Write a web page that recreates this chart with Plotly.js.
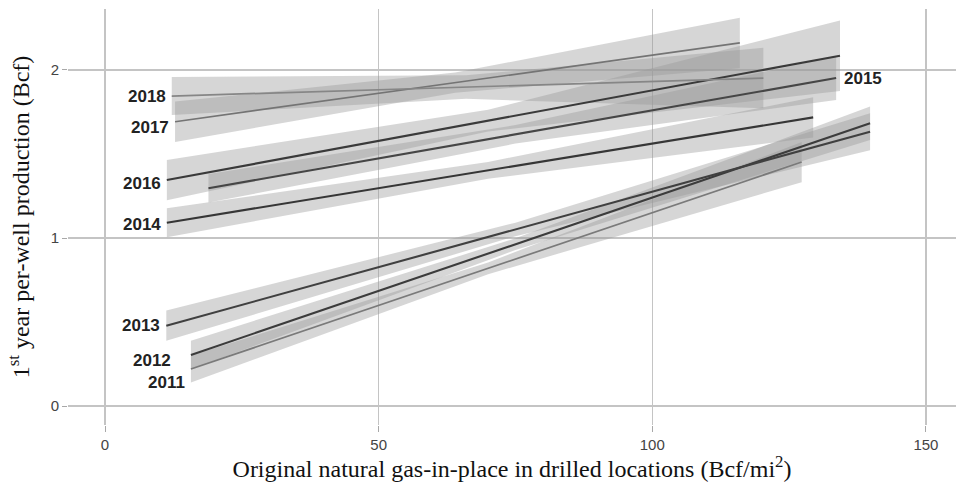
<!DOCTYPE html>
<html>
<head>
<meta charset="utf-8">
<script src="https://cdn.plot.ly/plotly-3.0.1.min.js"></script>
<style>
  html, body { margin: 0; padding: 0; background: #ffffff; }
  #chart { width: 956px; height: 482px; }
</style>
</head>
<body>
<div id="chart"></div>
<script>
// Fitted lines (geom_smooth lm) per year
const years     = ['2011', '2012', '2013', '2014', '2015', '2016', '2017', '2018'];
const xStart    = [15.7, 15.7, 11.2, 11.3, 18.9, 11.3, 12.8, 12.2];
const xMid      = [70, 75, 75, 70, 75, 70, 64, 66];
const xEnd      = [127.3, 139.8, 139.8, 129.4, 133.6, 134.3, 116.0, 120.3];
const yStart    = [0.220, 0.304, 0.478, 1.091, 1.296, 1.345, 1.692, 1.845];
const yEnd      = [1.452, 1.683, 1.633, 1.718, 1.952, 2.085, 2.161, 1.952];
// confidence band half-widths at start, middle and end of each fit
const bandStart = [0.080, 0.085, 0.090, 0.086, 0.085, 0.120, 0.120, 0.113];
const bandMid   = [0.035, 0.035, 0.040, 0.050, 0.055, 0.065, 0.060, 0.070];
const bandEnd   = [0.120, 0.100, 0.110, 0.120, 0.130, 0.210, 0.150, 0.180];
// line shades
const lineColors = ['#7a7a7a', '#3c3c3c', '#404040', '#363636', '#464646', '#3a3a3a', '#747474', '#868686'];
const lineWidths = [1.7, 2.1, 2.1, 2.1, 2.1, 2.1, 1.7, 1.7];
// label offsets (pixels) for direct labels
const labelYShift = [-13, -6, 0, -2, 0, -3, -6, 0];
const labelXShift = [-4, -18, -4, -4, 6, -4, -4, -4];

const yAt = (i, x) => yStart[i] + (yEnd[i] - yStart[i]) * (x - xStart[i]) / (xEnd[i] - xStart[i]);

const traces = [];
years.forEach((yr, i) => {
  const ym = yAt(i, xMid[i]);
  const xs = [xStart[i], xMid[i], xEnd[i]];
  const hi = [yStart[i] + bandStart[i], ym + bandMid[i], yEnd[i] + bandEnd[i]];
  const lo = [yStart[i] - bandStart[i], ym - bandMid[i], yEnd[i] - bandEnd[i]];
  traces.push({
    type: 'scatter', mode: 'lines',
    x: xs.concat(xs.slice().reverse()),
    y: hi.concat(lo.slice().reverse()),
    fill: 'toself', fillcolor: 'rgba(153,153,153,0.4)',
    line: { width: 0 }, hoverinfo: 'skip', showlegend: false
  });
});
years.forEach((yr, i) => {
  traces.push({
    type: 'scatter', mode: 'lines', name: yr,
    x: [xStart[i], xEnd[i]], y: [yStart[i], yEnd[i]],
    line: { color: lineColors[i], width: lineWidths[i] },
    showlegend: false
  });
});

const annotations = years.map((yr, i) => {
  const atEnd = yr === '2015';
  return {
    x: atEnd ? xEnd[i] : xStart[i],
    y: atEnd ? yEnd[i] : yStart[i],
    xref: 'x', yref: 'y',
    text: yr, showarrow: false,
    xanchor: atEnd ? 'left' : 'right', yanchor: 'middle',
    xshift: labelXShift[i], yshift: labelYShift[i],
    font: { family: 'Liberation Sans, Arial, sans-serif', size: 17, color: '#222222', weight: 'bold' }
  };
});

const layout = {
  width: 956, height: 482,
  margin: { l: 68, r: 0, t: 9, b: 57 },
  paper_bgcolor: '#ffffff', plot_bgcolor: '#ffffff',
  showlegend: false,
  xaxis: {
    range: [-6.76, 155.5],
    tickvals: [0, 50, 100, 150], ticktext: ['0', '50', '100', '150'],
    showgrid: true, gridcolor: '#c4c4c4', gridwidth: 1.5, zeroline: false,
    ticks: 'outside', ticklen: 6, tickcolor: '#a8a8a8', tickwidth: 1,
    showline: false,
    tickfont: { family: 'Liberation Sans, Arial, sans-serif', size: 15, color: '#444444' },
    title: { text: 'Original natural gas-in-place in drilled locations (Bcf/mi<sup>2</sup>)',
             font: { family: 'Liberation Serif, Times New Roman, serif', size: 24, color: '#111111' },
             standoff: 1 }
  },
  yaxis: {
    range: [-0.113, 2.363],
    tickvals: [0, 1, 2], ticktext: ['0', '1', '2'],
    showgrid: true, gridcolor: '#c4c4c4', gridwidth: 1.5, zeroline: false,
    ticks: 'outside', ticklen: 5, tickcolor: '#a8a8a8', tickwidth: 1,
    showline: false,
    tickfont: { family: 'Liberation Sans, Arial, sans-serif', size: 15, color: '#444444' },
    title: { text: '1<sup>st</sup> year per-well production (Bcf)',
             font: { family: 'Liberation Serif, Times New Roman, serif', size: 24, color: '#111111' },
             standoff: 14 }
  },
  annotations: annotations
};

Plotly.newPlot('chart', traces, layout, { staticPlot: true, displayModeBar: false });
</script>
</body>
</html>
